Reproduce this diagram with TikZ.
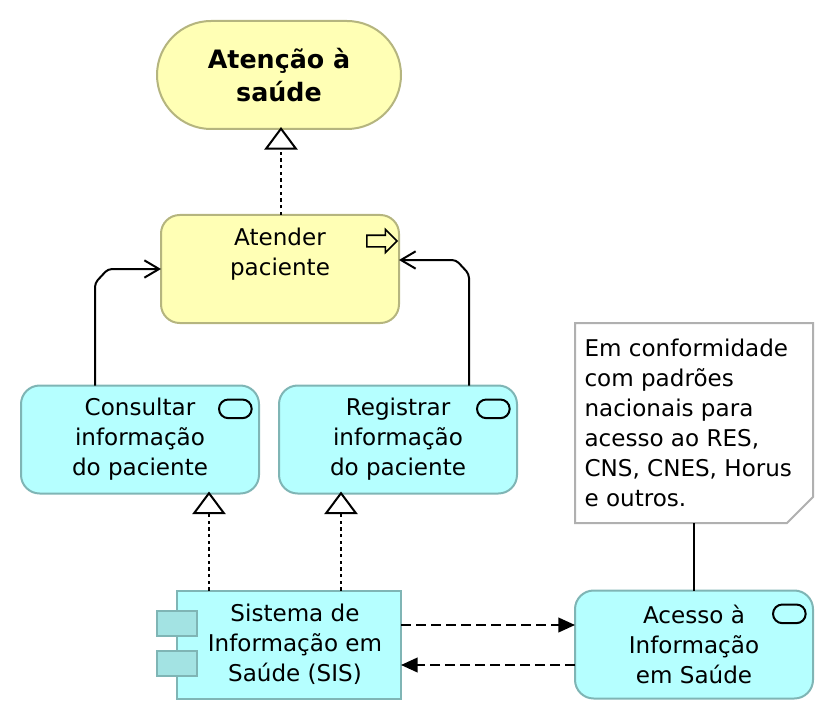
\documentclass[tikz,border=0pt]{standalone}
\usepackage{fontspec}
\setmainfont{DejaVu Sans}
\usepackage{tikz}
\usetikzlibrary{shapes,arrows.meta,positioning}

\definecolor{BizFill}{HTML}{FFFFB5}
\definecolor{BizLine}{HTML}{B5B57F}
\definecolor{AppFill}{HTML}{B5FFFF}
\definecolor{AppLine}{HTML}{7FB5B5}
\definecolor{PortFill}{HTML}{A3E3E3}
\definecolor{NoteLine}{HTML}{B0B0B0}

\begin{document}
\begin{tikzpicture}[x=0.75pt, y=-0.75pt, line width=1.5pt, outer sep=0pt]
	\tikzstyle{Label}	= [align=center, inner sep=0pt, font=\fontsize{17.3}{22.5}\selectfont]
	\tikzstyle{Box}		= [Label, draw, minimum width=178.5pt, minimum height=81pt]
	\tikzstyle{Biz}		= [Box, rounded corners=14pt, fill=BizFill, draw=BizLine]
	\tikzstyle{App}		= [Box, rounded corners=14pt, fill=AppFill, draw=AppLine]
	\tikzstyle{Port}	= [draw=AppLine, fill=PortFill, minimum width=30pt, minimum height=19pt, inner sep=0pt]
	\tikzstyle{Pill}	= [draw, rounded corners=7pt, minimum width=24.5pt, minimum height=14pt, inner sep=0pt]
	\tikzstyle{Real}	= [dash pattern=on 2.5pt off 2.5pt, shorten >=-1.5pt, -{Triangle[open, fill=white, length=17pt, width=25pt]}]
	\tikzstyle{Flow}	= [dash pattern=on 7.5pt off 3.75pt, -{Triangle[length=12.5pt, width=11pt]}]
	\tikzstyle{Trig}	= [rounded corners=3pt, -{Straight Barb[length=11pt, width=13pt]}]

	\useasboundingbox (0,0) rectangle (834,720);

	\node (goal) at (279,75) [Biz, minimum width=183pt, rounded corners=40.5pt, font=\fontsize{19}{24.5}\selectfont\bfseries] {Atenção à\\saúde};
	\node (atender) at (280,269) [Biz] {Atender\\paciente\\[2.7pt]\mbox{}};
	\foreach \name/\x/\y/\txt in {consultar/140/439.5/Consultar\\informação\\do paciente, registrar/398/439.5/Registrar\\informação\\do paciente, acesso/694/644.5/Acesso à\\Informação\\em Saúde} {
		\node (\name) at (\x,\y) [App] {\txt};
		\node (pill\name) at ([xshift=-5.5pt, yshift=-10.5pt]\name.north east) [Pill, anchor=north east] {};
	}
	\node (sis) at (289,644.5) [App, rounded corners=0pt, minimum width=168pt] {};
	\node (sistext) at (295,644) [Label] {Sistema de\\Informação em\\Saúde (SIS)};
	\foreach \n/\y in {a/623.5, b/663.5}
		\node (port\n) at (177,\y) [Port] {};

	\node (arrowicon) at (379,241) [single arrow, draw, fill=BizFill, line width=1.2pt, inner xsep=0pt, inner ysep=3.75pt, minimum height=22.5pt, minimum width=16pt, single arrow head extend=4.25pt, single arrow head indent=0pt] {};

	% note with the cut corner
	\draw [draw=NoteLine, fill=white] (575,323) -- (813,323) -- (813,497) -- (787,523) -- (575,523) -- cycle;
	\node (note) at (584.5,339) [anchor=north west, align=left, inner sep=0pt, font=\fontsize{17.3}{22.5}\selectfont] {Em conformidade\\com padrões\\nacionais para\\acesso ao RES,\\CNS, CNES, Horus\\e outros.};
	\coordinate (noteend) at (694,523);

	\coordinate (xa) at (281,0);
	\coordinate (xb) at (209,0);
	\coordinate (xc) at (341,0);
	\coordinate (yc) at (0,625);
	\coordinate (yd) at (0,665);

	\draw [Real] (atender.north -| xa) to (goal.south -| xa);
	\draw [Real] (sis.north -| xb) to (consultar.south -| xb);
	\draw [Real] (sis.north -| xc) to (registrar.south -| xc);
	\draw [Flow] (sis.east |- yc) to (acesso.west |- yc);
	\draw [Flow] (acesso.west |- yd) to (sis.east |- yd);
	\draw (noteend) to (acesso.north);

	\coordinate (ca) at (95,283);
	\coordinate (cb) at (108,269);
	\coordinate (cc) at (469,274);
	\coordinate (cd) at (456,260);
	\draw [Trig] (consultar.north -| ca) -- (ca) -- (cb) -- (atender.west |- cb);
	\draw [Trig] (registrar.north -| cc) -- (cc) -- (cd) -- (atender.east |- cd);
\end{tikzpicture}
\end{document}
